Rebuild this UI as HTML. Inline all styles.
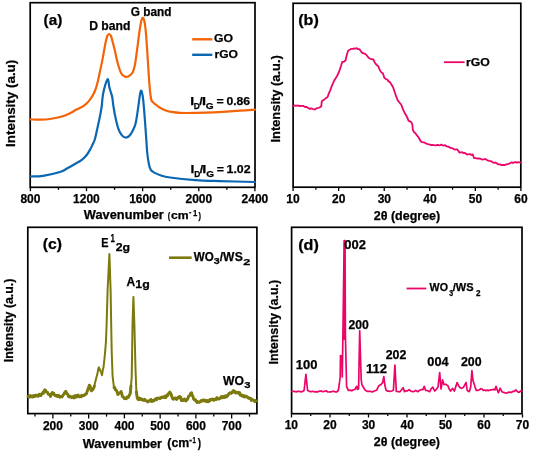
<!DOCTYPE html>
<html><head><meta charset="utf-8"><style>
html,body{margin:0;padding:0;background:#fff;width:533px;height:454px;overflow:hidden}
svg{display:block;will-change:transform}
text{font-family:"Liberation Sans", sans-serif;font-weight:bold;stroke:#000;stroke-width:0.25px}
</style></head><body>
<svg width="533" height="454" viewBox="0 0 533 454">
<rect width="533" height="454" fill="#fff"/>
<rect x="30.2" y="2.7" width="224.8" height="184.60000000000002" fill="none" stroke="#000" stroke-width="1.7"/>
<line x1="30.40" y1="188.0" x2="30.40" y2="191.2" stroke="#000" stroke-width="1.3"/>
<line x1="58.46" y1="188.0" x2="58.46" y2="189.8" stroke="#000" stroke-width="1.3"/>
<line x1="86.52" y1="188.0" x2="86.52" y2="191.2" stroke="#000" stroke-width="1.3"/>
<line x1="114.59" y1="188.0" x2="114.59" y2="189.8" stroke="#000" stroke-width="1.3"/>
<line x1="142.65" y1="188.0" x2="142.65" y2="191.2" stroke="#000" stroke-width="1.3"/>
<line x1="170.71" y1="188.0" x2="170.71" y2="189.8" stroke="#000" stroke-width="1.3"/>
<line x1="198.77" y1="188.0" x2="198.77" y2="191.2" stroke="#000" stroke-width="1.3"/>
<line x1="226.83" y1="188.0" x2="226.83" y2="189.8" stroke="#000" stroke-width="1.3"/>
<line x1="254.90" y1="188.0" x2="254.90" y2="191.2" stroke="#000" stroke-width="1.3"/>
<text x="20.44" y="202.80" font-size="12" textLength="20.02" lengthAdjust="spacingAndGlyphs" fill="#000" >800</text>
<text x="73.04" y="202.80" font-size="12" textLength="26.70" lengthAdjust="spacingAndGlyphs" fill="#000" >1200</text>
<text x="129.17" y="202.80" font-size="12" textLength="26.70" lengthAdjust="spacingAndGlyphs" fill="#000" >1600</text>
<text x="185.46" y="202.80" font-size="12" textLength="26.70" lengthAdjust="spacingAndGlyphs" fill="#000" >2000</text>
<text x="241.59" y="202.80" font-size="12" textLength="26.70" lengthAdjust="spacingAndGlyphs" fill="#000" >2400</text>
<path d="M30.50,119.40 C32.17,119.45 37.25,119.77 40.50,119.70 C43.75,119.63 46.28,119.57 50.00,119.00 C53.72,118.43 59.47,117.25 62.80,116.30 C66.13,115.35 67.80,114.38 70.00,113.30 C72.20,112.22 74.12,110.82 76.00,109.80 C77.88,108.78 79.75,108.07 81.30,107.20 C82.85,106.33 83.98,105.70 85.30,104.60 C86.62,103.50 87.88,102.27 89.20,100.60 C90.52,98.93 92.10,96.58 93.20,94.60 C94.30,92.62 95.03,90.90 95.80,88.70 C96.57,86.50 97.13,84.15 97.80,81.40 C98.47,78.65 99.13,75.28 99.80,72.20 C100.47,69.12 101.18,65.93 101.80,62.90 C102.42,59.87 102.88,57.32 103.50,54.00 C104.12,50.68 104.87,46.00 105.50,43.00 C106.13,40.00 106.70,37.50 107.30,36.00 C107.90,34.50 108.48,34.00 109.10,34.00 C109.72,34.00 110.38,34.58 111.00,36.00 C111.62,37.42 112.13,40.00 112.80,42.50 C113.47,45.00 114.22,47.67 115.00,51.00 C115.78,54.33 116.45,58.75 117.50,62.50 C118.55,66.25 120.05,71.15 121.30,73.50 C122.55,75.85 123.78,76.15 125.00,76.60 C126.22,77.05 127.35,76.83 128.60,76.20 C129.85,75.57 131.45,74.67 132.50,72.80 C133.55,70.93 134.13,68.87 134.90,65.00 C135.67,61.13 136.35,55.10 137.10,49.60 C137.85,44.10 138.70,36.77 139.40,32.00 C140.10,27.23 140.70,23.33 141.30,21.00 C141.90,18.67 142.42,17.63 143.00,18.00 C143.58,18.37 144.27,20.13 144.80,23.20 C145.33,26.27 145.72,30.52 146.20,36.40 C146.68,42.28 147.18,50.78 147.70,58.50 C148.22,66.22 148.82,76.45 149.30,82.70 C149.78,88.95 150.23,93.05 150.60,96.00 C150.97,98.95 151.10,99.35 151.50,100.40 C151.90,101.45 152.28,101.60 153.00,102.30 C153.72,103.00 154.77,103.78 155.80,104.60 C156.83,105.42 157.67,106.27 159.20,107.20 C160.73,108.13 162.97,109.42 165.00,110.20 C167.03,110.98 168.90,111.45 171.40,111.90 C173.90,112.35 175.90,112.73 180.00,112.90 C184.10,113.07 190.33,113.00 196.00,112.90 C201.67,112.80 206.67,112.67 214.00,112.30 C221.33,111.93 233.17,111.15 240.00,110.70 C246.83,110.25 252.50,109.78 255.00,109.60" fill="none" stroke="#f36408" stroke-width="2.2" stroke-linejoin="round" stroke-linecap="round"/>
<path d="M30.50,176.50 C32.58,176.38 38.08,176.55 43.00,175.80 C47.92,175.05 55.95,173.25 60.00,172.00 C64.05,170.75 64.88,169.60 67.30,168.30 C69.72,167.00 72.08,165.62 74.50,164.20 C76.92,162.78 79.77,161.33 81.80,159.80 C83.83,158.27 85.28,156.77 86.70,155.00 C88.12,153.23 89.32,150.95 90.30,149.20 C91.28,147.45 91.85,146.12 92.60,144.50 C93.35,142.88 94.08,141.83 94.80,139.50 C95.52,137.17 96.22,133.53 96.90,130.50 C97.58,127.47 98.30,124.13 98.90,121.30 C99.50,118.47 100.03,116.05 100.50,113.50 C100.97,110.95 101.35,109.08 101.75,106.00 C102.15,102.92 102.31,98.53 102.90,95.00 C103.49,91.47 104.47,87.43 105.30,84.80 C106.13,82.17 107.23,78.83 107.90,79.20 C108.57,79.57 108.85,84.95 109.30,87.00 C109.75,89.05 110.12,89.83 110.60,91.50 C111.08,93.17 111.73,94.58 112.20,97.00 C112.67,99.42 112.90,102.80 113.40,106.00 C113.90,109.20 114.40,112.48 115.20,116.20 C116.00,119.92 117.10,125.15 118.20,128.30 C119.30,131.45 120.60,133.57 121.80,135.10 C123.00,136.63 124.18,137.33 125.40,137.50 C126.62,137.67 127.88,137.23 129.10,136.10 C130.32,134.97 131.62,132.80 132.70,130.70 C133.78,128.60 134.72,127.13 135.60,123.50 C136.48,119.87 137.27,113.75 138.00,108.90 C138.73,104.05 139.43,97.42 140.00,94.40 C140.57,91.38 140.88,90.00 141.40,90.80 C141.92,91.60 142.53,94.57 143.10,99.20 C143.67,103.83 144.25,111.63 144.80,118.60 C145.35,125.57 145.98,135.18 146.40,141.00 C146.82,146.82 146.87,149.57 147.30,153.50 C147.73,157.43 148.42,161.87 149.00,164.60 C149.58,167.33 149.92,168.57 150.80,169.90 C151.68,171.23 152.68,171.70 154.30,172.60 C155.92,173.50 157.88,174.48 160.50,175.30 C163.12,176.12 164.15,176.70 170.00,177.50 C175.85,178.30 187.30,179.50 195.60,180.10 C203.90,180.70 209.90,180.78 219.80,181.10 C229.70,181.42 249.13,181.85 255.00,182.00" fill="none" stroke="#0b67b2" stroke-width="2.2" stroke-linejoin="round" stroke-linecap="round"/>
<text x="43.64" y="25.00" font-size="15" textLength="18.73" lengthAdjust="spacingAndGlyphs" fill="#000" >(a)</text>
<text x="89.19" y="30.00" font-size="12" textLength="41.22" lengthAdjust="spacingAndGlyphs" fill="#000" >D band</text>
<text x="130.82" y="16.00" font-size="12" textLength="40.66" lengthAdjust="spacingAndGlyphs" fill="#000" >G band</text>
<line x1="192.2" y1="39.3" x2="212.3" y2="39.3" stroke="#f36408" stroke-width="2.4"/>
<line x1="192.2" y1="54.8" x2="212.3" y2="54.8" stroke="#0b67b2" stroke-width="2.4"/>
<text x="214.00" y="42.00" font-size="11.5" textLength="19.01" lengthAdjust="spacingAndGlyphs" fill="#000" >GO</text>
<text x="214.50" y="57.60" font-size="11.5" textLength="23.50" lengthAdjust="spacingAndGlyphs" fill="#000" >rGO</text>
<text x="190.17" y="105.10" font-size="11.5" textLength="3.86" lengthAdjust="spacingAndGlyphs" fill="#000" >I</text>
<text x="193.84" y="109.40" font-size="9.3" textLength="6.01" lengthAdjust="spacingAndGlyphs" fill="#000" >D</text>
<text x="199.38" y="105.10" font-size="11.5" textLength="3.44" lengthAdjust="spacingAndGlyphs" fill="#000" >/</text>
<text x="201.92" y="105.10" font-size="11.5" textLength="4.05" lengthAdjust="spacingAndGlyphs" fill="#000" >I</text>
<text x="205.89" y="109.40" font-size="9.3" textLength="7.84" lengthAdjust="spacingAndGlyphs" fill="#000" >G</text>
<text x="216.49" y="105.30" font-size="11.5" textLength="7.22" lengthAdjust="spacingAndGlyphs" fill="#000" >=</text>
<text x="226.42" y="105.10" font-size="11.5" textLength="23.72" lengthAdjust="spacingAndGlyphs" fill="#000" >0.86</text>
<text x="190.57" y="172.60" font-size="11.5" textLength="3.86" lengthAdjust="spacingAndGlyphs" fill="#000" >I</text>
<text x="194.24" y="176.90" font-size="9.3" textLength="6.01" lengthAdjust="spacingAndGlyphs" fill="#000" >D</text>
<text x="199.78" y="172.60" font-size="11.5" textLength="3.44" lengthAdjust="spacingAndGlyphs" fill="#000" >/</text>
<text x="202.32" y="172.60" font-size="11.5" textLength="4.05" lengthAdjust="spacingAndGlyphs" fill="#000" >I</text>
<text x="206.29" y="176.90" font-size="9.3" textLength="7.84" lengthAdjust="spacingAndGlyphs" fill="#000" >G</text>
<text x="216.89" y="172.80" font-size="11.5" textLength="7.22" lengthAdjust="spacingAndGlyphs" fill="#000" >=</text>
<text x="226.52" y="172.60" font-size="11.5" textLength="24.07" lengthAdjust="spacingAndGlyphs" fill="#000" >1.02</text>
<text x="83.89" y="218.60" font-size="11.9" textLength="79.91" lengthAdjust="spacingAndGlyphs" fill="#000" >Wavenumber</text>
<text x="167.83" y="218.60" font-size="9.2" textLength="2.48" lengthAdjust="spacingAndGlyphs" fill="#000" >(</text>
<text x="170.92" y="218.80" font-size="11" textLength="17.63" lengthAdjust="spacingAndGlyphs" fill="#000" >cm</text>
<text x="188.92" y="214.60" font-size="9" textLength="2.36" lengthAdjust="spacingAndGlyphs" fill="#000" >-</text>
<text x="193.01" y="216.00" font-size="9" textLength="4.30" lengthAdjust="spacingAndGlyphs" fill="#000" >1</text>
<text x="198.49" y="218.60" font-size="9.2" textLength="2.48" lengthAdjust="spacingAndGlyphs" fill="#000" >)</text>
<text transform="translate(14.56,146.00) rotate(-90)" x="-0.90" y="0" font-size="13" textLength="87.16" lengthAdjust="spacingAndGlyphs">Intensity (a.u)</text>
<rect x="293.1" y="3.3" width="227.69999999999993" height="183.89999999999998" fill="none" stroke="#000" stroke-width="1.7"/>
<line x1="293.10" y1="187.9" x2="293.10" y2="191.1" stroke="#000" stroke-width="1.3"/>
<line x1="315.88" y1="187.9" x2="315.88" y2="189.70000000000002" stroke="#000" stroke-width="1.3"/>
<line x1="338.66" y1="187.9" x2="338.66" y2="191.1" stroke="#000" stroke-width="1.3"/>
<line x1="361.44" y1="187.9" x2="361.44" y2="189.70000000000002" stroke="#000" stroke-width="1.3"/>
<line x1="384.22" y1="187.9" x2="384.22" y2="191.1" stroke="#000" stroke-width="1.3"/>
<line x1="407.00" y1="187.9" x2="407.00" y2="189.70000000000002" stroke="#000" stroke-width="1.3"/>
<line x1="429.78" y1="187.9" x2="429.78" y2="191.1" stroke="#000" stroke-width="1.3"/>
<line x1="452.56" y1="187.9" x2="452.56" y2="189.70000000000002" stroke="#000" stroke-width="1.3"/>
<line x1="475.34" y1="187.9" x2="475.34" y2="191.1" stroke="#000" stroke-width="1.3"/>
<line x1="498.12" y1="187.9" x2="498.12" y2="189.70000000000002" stroke="#000" stroke-width="1.3"/>
<line x1="520.90" y1="187.9" x2="520.90" y2="191.1" stroke="#000" stroke-width="1.3"/>
<text x="286.29" y="202.50" font-size="12" textLength="13.35" lengthAdjust="spacingAndGlyphs" fill="#000" >10</text>
<text x="332.02" y="202.50" font-size="12" textLength="13.35" lengthAdjust="spacingAndGlyphs" fill="#000" >20</text>
<text x="377.65" y="202.50" font-size="12" textLength="13.35" lengthAdjust="spacingAndGlyphs" fill="#000" >30</text>
<text x="423.26" y="202.50" font-size="12" textLength="13.35" lengthAdjust="spacingAndGlyphs" fill="#000" >40</text>
<text x="468.73" y="202.50" font-size="12" textLength="13.35" lengthAdjust="spacingAndGlyphs" fill="#000" >50</text>
<text x="514.25" y="202.50" font-size="12" textLength="13.35" lengthAdjust="spacingAndGlyphs" fill="#000" >60</text>
<text x="298.20" y="24.50" font-size="15" textLength="20.61" lengthAdjust="spacingAndGlyphs" fill="#000" >(b)</text>
<path d="M293.20,105.90 L294.47,105.49 L295.73,105.75 L297.00,105.60 L298.23,105.52 L299.45,105.87 L300.67,105.98 L301.90,105.90 L303.45,105.93 L305.00,107.00 L306.75,107.02 L308.50,108.20 L309.70,108.88 L310.90,108.46 L312.10,108.71 L313.30,109.30 L314.80,109.46 L316.30,108.40 L317.80,108.00 L319.55,107.50 L321.30,106.20 L321.80,101.30 L323.27,100.14 L324.73,99.20 L326.20,97.90 L327.60,97.00 L328.85,93.38 L330.10,90.60 L331.50,86.70 L333.00,83.30 L334.00,80.90 L335.65,78.36 L337.30,75.50 L339.10,71.70 L341.00,66.00 L342.20,62.00 L343.85,61.69 L345.50,60.50 L346.50,56.00 L348.20,50.50 L349.75,49.68 L351.30,48.80 L352.85,48.84 L354.40,48.30 L355.62,48.71 L356.85,48.18 L358.07,49.21 L359.30,49.10 L360.80,51.06 L362.30,52.80 L363.73,53.36 L365.17,53.84 L366.60,55.20 L368.40,57.49 L370.20,58.90 L371.75,59.17 L373.30,59.50 L375.10,63.20 L376.65,64.96 L378.20,66.20 L380.00,70.50 L381.50,72.45 L383.00,73.50 L384.30,77.80 L385.80,78.96 L387.30,79.60 L388.55,81.36 L389.80,82.10 L391.45,84.52 L393.10,87.20 L395.00,93.00 L396.45,97.21 L397.90,100.70 L399.65,102.78 L401.40,105.00 L402.60,108.39 L403.80,111.19 L405.00,113.60 L406.20,115.52 L407.40,117.96 L408.60,120.80 L410.05,121.31 L411.50,122.50 L412.30,124.50 L412.90,130.10 L414.15,132.26 L415.40,133.22 L416.65,135.05 L417.90,136.50 L419.35,138.76 L420.80,141.50 L422.23,142.06 L423.65,142.46 L425.07,142.97 L426.50,143.70 L427.93,144.08 L429.35,144.35 L430.77,145.01 L432.20,144.80 L433.62,145.02 L435.05,145.31 L436.47,145.23 L437.90,144.80 L439.10,145.44 L440.30,145.11 L441.50,144.55 L442.70,145.43 L443.90,145.61 L445.10,145.10 L446.53,146.29 L447.97,146.58 L449.40,147.20 L450.83,148.09 L452.27,148.12 L453.70,149.10 L454.90,149.60 L456.10,149.39 L457.30,149.40 L459.40,152.50 L460.80,152.32 L462.20,152.13 L463.60,153.15 L465.00,152.80 L466.55,154.24 L468.10,154.50 L469.67,154.01 L471.23,154.86 L472.80,154.50 L474.00,158.00 L475.70,158.19 L477.40,158.60 L478.80,158.30 L480.20,158.59 L481.60,159.28 L483.00,159.53 L484.40,159.20 L485.97,159.22 L487.53,160.47 L489.10,160.90 L490.85,161.05 L492.60,162.30 L494.30,162.76 L496.00,162.70 L498.40,164.40 L499.93,164.33 L501.47,165.12 L503.00,164.80 L504.57,165.18 L506.13,164.41 L507.70,164.20 L510.00,163.30 L511.70,162.40 L512.96,163.04 L514.21,162.26 L515.47,162.02 L516.73,162.69 L517.99,162.05 L519.24,162.29 L520.50,162.70" fill="none" stroke="#eb0568" stroke-width="1.8" stroke-linejoin="round" stroke-linecap="round"/>
<line x1="444" y1="62.2" x2="464.6" y2="62.2" stroke="#eb0568" stroke-width="1.8"/>
<text x="466.09" y="66.10" font-size="11.5" textLength="23.82" lengthAdjust="spacingAndGlyphs" fill="#000" >rGO</text>
<text x="373.77" y="220.40" font-size="12" textLength="66.46" lengthAdjust="spacingAndGlyphs" fill="#000" >2θ (degree)</text>
<text transform="translate(280.13,141.70) rotate(-90)" x="-0.86" y="0" font-size="12.5" textLength="87.40" lengthAdjust="spacingAndGlyphs">Intensity (a.u.)</text>
<rect x="27.8" y="227.3" width="229.09999999999997" height="186.3" fill="none" stroke="#000" stroke-width="1.7"/>
<line x1="35.02" y1="414.2" x2="35.02" y2="416.59999999999997" stroke="#000" stroke-width="1.3"/>
<line x1="52.90" y1="414.2" x2="52.90" y2="418.4" stroke="#000" stroke-width="1.3"/>
<line x1="70.78" y1="414.2" x2="70.78" y2="416.59999999999997" stroke="#000" stroke-width="1.3"/>
<line x1="88.65" y1="414.2" x2="88.65" y2="418.4" stroke="#000" stroke-width="1.3"/>
<line x1="106.53" y1="414.2" x2="106.53" y2="416.59999999999997" stroke="#000" stroke-width="1.3"/>
<line x1="124.40" y1="414.2" x2="124.40" y2="418.4" stroke="#000" stroke-width="1.3"/>
<line x1="142.28" y1="414.2" x2="142.28" y2="416.59999999999997" stroke="#000" stroke-width="1.3"/>
<line x1="160.15" y1="414.2" x2="160.15" y2="418.4" stroke="#000" stroke-width="1.3"/>
<line x1="178.03" y1="414.2" x2="178.03" y2="416.59999999999997" stroke="#000" stroke-width="1.3"/>
<line x1="195.90" y1="414.2" x2="195.90" y2="418.4" stroke="#000" stroke-width="1.3"/>
<line x1="213.78" y1="414.2" x2="213.78" y2="416.59999999999997" stroke="#000" stroke-width="1.3"/>
<line x1="231.65" y1="414.2" x2="231.65" y2="418.4" stroke="#000" stroke-width="1.3"/>
<line x1="249.53" y1="414.2" x2="249.53" y2="416.59999999999997" stroke="#000" stroke-width="1.3"/>
<text x="42.93" y="429.80" font-size="12" textLength="20.02" lengthAdjust="spacingAndGlyphs" fill="#000" >200</text>
<text x="78.75" y="429.80" font-size="12" textLength="20.02" lengthAdjust="spacingAndGlyphs" fill="#000" >300</text>
<text x="114.54" y="429.80" font-size="12" textLength="20.02" lengthAdjust="spacingAndGlyphs" fill="#000" >400</text>
<text x="150.20" y="429.80" font-size="12" textLength="20.02" lengthAdjust="spacingAndGlyphs" fill="#000" >500</text>
<text x="185.92" y="429.80" font-size="12" textLength="20.02" lengthAdjust="spacingAndGlyphs" fill="#000" >600</text>
<text x="221.63" y="429.80" font-size="12" textLength="20.02" lengthAdjust="spacingAndGlyphs" fill="#000" >700</text>
<path d="M28.00,396.40 L28.64,396.05 L29.29,395.70 L29.93,396.98 L30.57,395.66 L31.21,396.84 L31.86,396.51 L32.50,396.90 L33.14,395.71 L33.79,396.66 L34.43,395.40 L35.07,396.23 L35.71,395.22 L36.36,395.15 L37.00,396.00 L37.64,395.56 L38.29,396.27 L38.93,394.33 L39.57,394.31 L40.21,395.02 L40.86,395.53 L41.50,394.20 L42.12,393.71 L42.75,392.60 L43.38,393.32 L44.00,391.50 L44.80,389.86 L45.60,390.40 L46.30,392.06 L47.00,392.00 L47.65,392.60 L48.30,394.20 L49.03,394.08 L49.77,394.75 L50.50,396.40 L51.40,394.04 L52.30,392.60 L52.97,394.03 L53.65,393.18 L54.33,394.82 L55.00,395.30 L55.60,395.87 L56.20,395.47 L56.80,396.13 L57.40,395.21 L58.00,396.50 L58.63,395.51 L59.27,395.93 L59.90,397.13 L60.53,396.59 L61.17,396.39 L61.80,396.90 L62.53,396.14 L63.27,394.85 L64.00,394.00 L64.90,392.17 L65.80,391.30 L66.65,393.36 L67.50,394.00 L68.50,396.40 L69.14,396.95 L69.79,395.93 L70.43,396.79 L71.07,396.75 L71.71,397.66 L72.36,397.38 L73.00,396.90 L73.62,396.31 L74.24,397.89 L74.85,395.74 L75.47,396.38 L76.09,397.11 L76.71,395.57 L77.33,396.30 L77.95,395.14 L78.56,396.57 L79.18,396.72 L79.80,396.00 L80.44,396.08 L81.09,396.70 L81.73,395.25 L82.37,396.07 L83.01,395.73 L83.66,395.59 L84.30,395.30 L84.97,394.34 L85.65,394.42 L86.33,393.82 L87.00,391.90 L87.77,389.60 L88.53,387.83 L89.30,385.20 L90.03,386.01 L90.77,389.42 L91.50,390.80 L92.22,389.93 L92.95,389.53 L93.68,387.90 L94.40,385.90 L95.20,382.12 L96.00,379.09 L96.80,376.10 L97.50,373.57 L98.20,369.09 L98.90,367.30 L99.60,368.96 L100.30,370.80 L101.15,372.20 L102.00,375.20 L102.75,370.33 L103.50,367.30 L104.10,362.00 L104.70,356.70 L105.30,349.65 L105.90,342.60 L106.60,325.00 L107.60,290.00 L108.20,278.00 L108.80,266.00 L109.40,254.00 L110.60,290.00 L111.20,325.00 L111.70,351.40 L112.60,376.10 L113.30,381.85 L114.00,387.60 L114.70,387.41 L115.40,389.98 L116.10,390.20 L116.70,390.78 L117.30,392.53 L117.90,394.60 L118.80,393.44 L119.70,392.80 L120.40,393.09 L121.10,391.60 L121.70,392.99 L122.30,396.40 L122.97,396.70 L123.65,397.37 L124.33,398.60 L125.00,398.10 L125.70,398.69 L126.40,398.61 L127.10,397.03 L127.80,397.18 L128.50,397.20 L129.35,395.11 L130.20,393.70 L130.95,385.80 L131.70,377.90 L132.50,325.00 L133.40,296.90 L134.40,325.00 L135.50,369.00 L136.40,392.00 L137.30,398.10 L138.00,399.30 L138.70,399.76 L139.40,398.10 L140.10,398.44 L140.80,399.50 L141.44,399.02 L142.09,399.19 L142.73,399.96 L143.38,400.38 L144.02,399.76 L144.67,399.31 L145.31,400.47 L145.96,400.52 L146.60,401.00 L147.21,401.09 L147.82,401.94 L148.43,401.24 L149.04,400.75 L149.65,400.92 L150.25,400.99 L150.86,399.42 L151.47,401.38 L152.08,401.02 L152.69,401.17 L153.30,400.20 L153.96,400.76 L154.62,399.64 L155.28,399.51 L155.94,398.65 L156.60,399.77 L157.26,398.25 L157.92,398.11 L158.58,398.30 L159.24,398.04 L159.90,398.70 L160.54,398.16 L161.19,397.31 L161.83,397.03 L162.47,397.23 L163.11,396.96 L163.76,397.43 L164.40,397.60 L165.06,396.02 L165.72,397.62 L166.38,396.55 L167.04,395.00 L167.70,395.40 L168.43,393.71 L169.17,392.83 L169.90,392.10 L170.63,393.61 L171.37,394.86 L172.10,397.60 L172.73,398.69 L173.36,399.30 L173.99,398.29 L174.61,398.59 L175.24,397.89 L175.87,398.19 L176.50,399.40 L177.22,398.30 L177.95,397.39 L178.68,398.01 L179.40,396.50 L180.07,396.69 L180.75,397.36 L181.43,400.58 L182.10,400.50 L182.73,400.47 L183.36,399.45 L183.99,400.30 L184.61,398.96 L185.24,400.07 L185.87,401.05 L186.50,399.80 L187.16,399.79 L187.82,398.51 L188.48,396.59 L189.14,395.96 L189.80,395.40 L190.70,393.30 L191.60,392.80 L192.25,395.20 L192.90,396.38 L193.55,398.72 L194.20,399.80 L194.88,399.75 L195.56,399.86 L196.24,401.63 L196.92,402.40 L197.60,401.60 L198.26,402.39 L198.92,402.21 L199.58,402.18 L200.24,401.94 L200.90,400.64 L201.56,401.28 L202.22,400.83 L202.88,399.99 L203.54,399.93 L204.20,401.00 L204.80,400.39 L205.40,400.26 L206.00,401.22 L206.60,401.77 L207.20,400.46 L207.80,401.56 L208.40,401.60 L209.00,401.44 L209.60,399.94 L210.20,399.51 L210.80,400.10 L211.41,399.30 L212.02,399.08 L212.63,398.95 L213.24,399.82 L213.85,400.33 L214.45,400.04 L215.06,399.03 L215.67,399.30 L216.28,399.51 L216.89,397.65 L217.50,398.50 L218.15,398.70 L218.80,399.10 L219.45,398.61 L220.10,398.34 L220.75,397.50 L221.40,396.59 L222.05,397.86 L222.70,396.58 L223.35,397.51 L224.00,396.60 L224.67,397.53 L225.33,395.95 L226.00,395.76 L226.67,396.87 L227.33,396.14 L228.00,395.40 L228.62,394.01 L229.25,393.30 L229.88,392.76 L230.50,393.00 L231.27,393.37 L232.03,392.54 L232.80,391.20 L233.53,390.45 L234.27,392.18 L235.00,391.50 L235.67,392.99 L236.33,392.54 L237.00,392.14 L237.67,392.95 L238.33,392.28 L239.00,393.50 L239.67,392.67 L240.33,395.30 L241.00,394.86 L241.67,394.90 L242.33,396.21 L243.00,395.50 L243.62,395.63 L244.25,396.97 L244.88,397.15 L245.50,395.96 L246.12,396.34 L246.75,396.73 L247.38,396.89 L248.00,397.80 L248.67,398.34 L249.33,397.89 L250.00,398.61 L250.67,398.25 L251.33,400.45 L252.00,399.80 L252.70,399.65 L253.40,400.10 L254.10,400.60 L254.80,401.57 L255.50,400.61 L256.20,401.00" fill="none" stroke="#7c7a0c" stroke-width="2.0" stroke-linejoin="round" stroke-linecap="round"/>
<path d="M28.00,396.40 L28.64,396.05 L29.29,395.70 L29.93,396.98 L30.57,395.66 L31.21,396.84 L31.86,396.51 L32.50,396.90 L33.14,395.71 L33.79,396.66 L34.43,395.40 L35.07,396.23 L35.71,395.22 L36.36,395.15 L37.00,396.00 L37.64,395.56 L38.29,396.27 L38.93,394.33 L39.57,394.31 L40.21,395.02 L40.86,395.53 L41.50,394.20 L42.12,393.71 L42.75,392.60 L43.38,393.32 L44.00,391.50 L44.80,389.86 L45.60,390.40 L46.30,392.06 L47.00,392.00 L47.65,392.60 L48.30,394.20 L49.03,394.08 L49.77,394.75 L50.50,396.40 L51.40,394.04 L52.30,392.60 L52.97,394.03 L53.65,393.18 L54.33,394.82 L55.00,395.30 L55.60,395.87 L56.20,395.47 L56.80,396.13 L57.40,395.21 L58.00,396.50 L58.63,395.51 L59.27,395.93 L59.90,397.13 L60.53,396.59 L61.17,396.39 L61.80,396.90 L62.53,396.14 L63.27,394.85 L64.00,394.00 L64.90,392.17 L65.80,391.30 L66.65,393.36 L67.50,394.00 L68.50,396.40 L69.14,396.95 L69.79,395.93 L70.43,396.79 L71.07,396.75 L71.71,397.66 L72.36,397.38 L73.00,396.90 L73.62,396.31 L74.24,397.89 L74.85,395.74 L75.47,396.38 L76.09,397.11 L76.71,395.57 L77.33,396.30 L77.95,395.14 L78.56,396.57 L79.18,396.72 L79.80,396.00 L80.44,396.08 L81.09,396.70 L81.73,395.25 L82.37,396.07 L83.01,395.73 L83.66,395.59 L84.30,395.30 L84.97,394.34 L85.65,394.42 L86.33,393.82 L87.00,391.90 L87.77,389.60 L88.53,387.83 L89.30,385.20 L90.03,386.01 L90.77,389.42 L91.50,390.80 L92.22,389.93 L92.95,389.53 L93.68,387.90 L94.40,385.90" fill="none" stroke="#7c7a0c" stroke-width="2.9" stroke-linejoin="round" stroke-linecap="round"/>
<path d="M114.00,387.60 L114.70,387.41 L115.40,389.98 L116.10,390.20 L116.70,390.78 L117.30,392.53 L117.90,394.60 L118.80,393.44 L119.70,392.80 L120.40,393.09 L121.10,391.60 L121.70,392.99 L122.30,396.40 L122.97,396.70 L123.65,397.37 L124.33,398.60 L125.00,398.10 L125.70,398.69 L126.40,398.61 L127.10,397.03 L127.80,397.18 L128.50,397.20 L129.35,395.11 L130.20,393.70 L130.95,385.80" fill="none" stroke="#7c7a0c" stroke-width="2.9" stroke-linejoin="round" stroke-linecap="round"/>
<path d="M136.40,392.00 L137.30,398.10 L138.00,399.30 L138.70,399.76 L139.40,398.10 L140.10,398.44 L140.80,399.50 L141.44,399.02 L142.09,399.19 L142.73,399.96 L143.38,400.38 L144.02,399.76 L144.67,399.31 L145.31,400.47 L145.96,400.52 L146.60,401.00 L147.21,401.09 L147.82,401.94 L148.43,401.24 L149.04,400.75 L149.65,400.92 L150.25,400.99 L150.86,399.42 L151.47,401.38 L152.08,401.02 L152.69,401.17 L153.30,400.20 L153.96,400.76 L154.62,399.64 L155.28,399.51 L155.94,398.65 L156.60,399.77 L157.26,398.25 L157.92,398.11 L158.58,398.30 L159.24,398.04 L159.90,398.70 L160.54,398.16 L161.19,397.31 L161.83,397.03 L162.47,397.23 L163.11,396.96 L163.76,397.43 L164.40,397.60 L165.06,396.02 L165.72,397.62 L166.38,396.55 L167.04,395.00 L167.70,395.40 L168.43,393.71 L169.17,392.83 L169.90,392.10 L170.63,393.61 L171.37,394.86 L172.10,397.60 L172.73,398.69 L173.36,399.30 L173.99,398.29 L174.61,398.59 L175.24,397.89 L175.87,398.19 L176.50,399.40 L177.22,398.30 L177.95,397.39 L178.68,398.01 L179.40,396.50 L180.07,396.69 L180.75,397.36 L181.43,400.58 L182.10,400.50 L182.73,400.47 L183.36,399.45 L183.99,400.30 L184.61,398.96 L185.24,400.07 L185.87,401.05 L186.50,399.80 L187.16,399.79 L187.82,398.51 L188.48,396.59 L189.14,395.96 L189.80,395.40 L190.70,393.30 L191.60,392.80 L192.25,395.20 L192.90,396.38 L193.55,398.72 L194.20,399.80 L194.88,399.75 L195.56,399.86 L196.24,401.63 L196.92,402.40 L197.60,401.60 L198.26,402.39 L198.92,402.21 L199.58,402.18 L200.24,401.94 L200.90,400.64 L201.56,401.28 L202.22,400.83 L202.88,399.99 L203.54,399.93 L204.20,401.00 L204.80,400.39 L205.40,400.26 L206.00,401.22 L206.60,401.77 L207.20,400.46 L207.80,401.56 L208.40,401.60 L209.00,401.44 L209.60,399.94 L210.20,399.51 L210.80,400.10 L211.41,399.30 L212.02,399.08 L212.63,398.95 L213.24,399.82 L213.85,400.33 L214.45,400.04 L215.06,399.03 L215.67,399.30 L216.28,399.51 L216.89,397.65 L217.50,398.50 L218.15,398.70 L218.80,399.10 L219.45,398.61 L220.10,398.34 L220.75,397.50 L221.40,396.59 L222.05,397.86 L222.70,396.58 L223.35,397.51 L224.00,396.60 L224.67,397.53 L225.33,395.95 L226.00,395.76 L226.67,396.87 L227.33,396.14 L228.00,395.40 L228.62,394.01 L229.25,393.30 L229.88,392.76 L230.50,393.00 L231.27,393.37 L232.03,392.54 L232.80,391.20 L233.53,390.45 L234.27,392.18 L235.00,391.50 L235.67,392.99 L236.33,392.54 L237.00,392.14 L237.67,392.95 L238.33,392.28 L239.00,393.50 L239.67,392.67 L240.33,395.30 L241.00,394.86 L241.67,394.90 L242.33,396.21 L243.00,395.50 L243.62,395.63 L244.25,396.97 L244.88,397.15 L245.50,395.96 L246.12,396.34 L246.75,396.73 L247.38,396.89 L248.00,397.80 L248.67,398.34 L249.33,397.89 L250.00,398.61 L250.67,398.25 L251.33,400.45 L252.00,399.80 L252.70,399.65 L253.40,400.10 L254.10,400.60 L254.80,401.57 L255.50,400.61 L256.20,401.00" fill="none" stroke="#7c7a0c" stroke-width="2.9" stroke-linejoin="round" stroke-linecap="round"/>
<text x="42.82" y="249.00" font-size="15" textLength="19.16" lengthAdjust="spacingAndGlyphs" fill="#000" >(c)</text>
<line x1="169" y1="257.7" x2="191.6" y2="257.7" stroke="#7c7a0c" stroke-width="2.6"/>
<text x="193.69" y="260.70" font-size="12" textLength="20.00" lengthAdjust="spacingAndGlyphs" fill="#000" >WO</text>
<text x="213.76" y="263.90" font-size="9.5" textLength="5.93" lengthAdjust="spacingAndGlyphs" fill="#000" >3</text>
<text x="219.78" y="260.70" font-size="12" textLength="14.73" lengthAdjust="spacingAndGlyphs" fill="#000" >/W</text>
<text x="234.75" y="260.70" font-size="12" textLength="8.13" lengthAdjust="spacingAndGlyphs" fill="#000" >S</text>
<text x="243.26" y="264.50" font-size="9.5" textLength="7.05" lengthAdjust="spacingAndGlyphs" fill="#000" >2</text>
<text x="101.27" y="247.40" font-size="12" textLength="7.25" lengthAdjust="spacingAndGlyphs" fill="#000" >E</text>
<text x="110.50" y="242.20" font-size="11" textLength="4.42" lengthAdjust="spacingAndGlyphs" fill="#000" >1</text>
<text x="115.67" y="250.80" font-size="11" textLength="14.35" lengthAdjust="spacingAndGlyphs" fill="#000" >2g</text>
<text x="126.60" y="285.80" font-size="12" textLength="8.72" lengthAdjust="spacingAndGlyphs" fill="#000" >A</text>
<text x="135.32" y="288.40" font-size="11" textLength="14.40" lengthAdjust="spacingAndGlyphs" fill="#000" >1g</text>
<text x="223.09" y="384.60" font-size="12" textLength="20.92" lengthAdjust="spacingAndGlyphs" fill="#000" >WO</text>
<text x="244.24" y="387.50" font-size="9.5" textLength="6.27" lengthAdjust="spacingAndGlyphs" fill="#000" >3</text>
<text x="82.69" y="447.80" font-size="13.3" textLength="79.40" lengthAdjust="spacingAndGlyphs" fill="#000" >Wavenumber</text>
<text x="167.28" y="447.40" font-size="12.3" textLength="21.98" lengthAdjust="spacingAndGlyphs" fill="#000" >(cm</text>
<text x="189.28" y="443.40" font-size="10" textLength="2.75" lengthAdjust="spacingAndGlyphs" fill="#000" >-</text>
<text x="192.42" y="442.60" font-size="8.8" textLength="3.35" lengthAdjust="spacingAndGlyphs" fill="#000" >1</text>
<text x="197.79" y="447.40" font-size="12.3" textLength="3.30" lengthAdjust="spacingAndGlyphs" fill="#000" >)</text>
<text transform="translate(13.40,361.40) rotate(-90)" x="-0.82" y="0" font-size="12" textLength="83.54" lengthAdjust="spacingAndGlyphs">Intensity (a.u.)</text>
<rect x="291.6" y="227.3" width="230.39999999999998" height="186.39999999999998" fill="none" stroke="#000" stroke-width="1.7"/>
<line x1="291.50" y1="414.3" x2="291.50" y2="417.5" stroke="#000" stroke-width="1.3"/>
<line x1="310.75" y1="414.3" x2="310.75" y2="416.1" stroke="#000" stroke-width="1.3"/>
<line x1="330.00" y1="414.3" x2="330.00" y2="417.5" stroke="#000" stroke-width="1.3"/>
<line x1="349.25" y1="414.3" x2="349.25" y2="416.1" stroke="#000" stroke-width="1.3"/>
<line x1="368.50" y1="414.3" x2="368.50" y2="417.5" stroke="#000" stroke-width="1.3"/>
<line x1="387.75" y1="414.3" x2="387.75" y2="416.1" stroke="#000" stroke-width="1.3"/>
<line x1="407.00" y1="414.3" x2="407.00" y2="417.5" stroke="#000" stroke-width="1.3"/>
<line x1="426.25" y1="414.3" x2="426.25" y2="416.1" stroke="#000" stroke-width="1.3"/>
<line x1="445.50" y1="414.3" x2="445.50" y2="417.5" stroke="#000" stroke-width="1.3"/>
<line x1="464.75" y1="414.3" x2="464.75" y2="416.1" stroke="#000" stroke-width="1.3"/>
<line x1="484.00" y1="414.3" x2="484.00" y2="417.5" stroke="#000" stroke-width="1.3"/>
<line x1="503.25" y1="414.3" x2="503.25" y2="416.1" stroke="#000" stroke-width="1.3"/>
<line x1="522.50" y1="414.3" x2="522.50" y2="417.5" stroke="#000" stroke-width="1.3"/>
<text x="284.69" y="429.30" font-size="12" textLength="13.35" lengthAdjust="spacingAndGlyphs" fill="#000" >10</text>
<text x="323.36" y="429.30" font-size="12" textLength="13.35" lengthAdjust="spacingAndGlyphs" fill="#000" >20</text>
<text x="361.93" y="429.30" font-size="12" textLength="13.35" lengthAdjust="spacingAndGlyphs" fill="#000" >30</text>
<text x="400.48" y="429.30" font-size="12" textLength="13.35" lengthAdjust="spacingAndGlyphs" fill="#000" >40</text>
<text x="438.89" y="429.30" font-size="12" textLength="13.35" lengthAdjust="spacingAndGlyphs" fill="#000" >50</text>
<text x="477.35" y="429.30" font-size="12" textLength="13.35" lengthAdjust="spacingAndGlyphs" fill="#000" >60</text>
<text x="515.81" y="429.30" font-size="12" textLength="13.35" lengthAdjust="spacingAndGlyphs" fill="#000" >70</text>
<path d="M292.00,391.40 L293.36,391.34 L294.72,391.47 L296.08,391.91 L297.44,391.36 L298.80,391.40 L300.40,391.61 L302.00,391.80 L304.10,390.50 L305.90,374.30 L307.60,390.50 L310.00,391.60 L311.28,391.72 L312.56,391.26 L313.84,391.67 L315.12,391.84 L316.40,391.70 L317.63,391.98 L318.86,391.07 L320.09,391.25 L321.31,390.92 L322.54,391.71 L323.77,391.50 L325.00,391.20 L326.29,390.74 L327.58,391.96 L328.87,392.02 L330.16,391.74 L331.44,391.78 L332.73,391.32 L334.02,391.24 L335.31,391.95 L336.60,392.00 L338.30,390.50 L339.30,384.00 L340.20,377.00 L340.50,355.50 L341.90,356.00 L342.30,377.00 L342.90,335.00 L344.20,240.60 L345.00,240.60 L345.40,335.00 L346.60,386.70 L348.50,390.50 L350.15,390.12 L351.80,390.80 L353.30,389.78 L354.80,389.50 L355.70,388.00 L356.80,386.30 L357.50,389.50 L358.60,388.50 L359.70,330.80 L361.20,380.00 L361.90,384.60 L363.50,387.50 L365.30,390.30 L367.50,391.40 L369.00,391.29 L370.50,391.24 L372.00,392.00 L373.50,391.39 L375.00,390.80 L376.50,390.30 L378.80,385.80 L381.00,384.60 L382.70,382.40 L383.80,376.70 L385.00,385.80 L386.10,390.30 L387.40,391.08 L388.70,391.06 L390.00,391.40 L391.70,391.02 L393.40,390.30 L394.90,365.00 L396.30,391.40 L397.53,391.50 L398.77,391.79 L400.00,391.70 L401.60,389.65 L403.20,387.70 L404.50,391.70 L406.03,390.77 L407.57,390.96 L409.10,389.70 L410.43,390.96 L411.77,391.44 L413.10,391.70 L414.40,391.30 L415.70,390.40 L417.70,391.70 L419.35,390.48 L421.00,389.70 L422.90,389.70 L424.20,386.40 L425.60,390.40 L426.90,390.51 L428.20,391.01 L429.50,391.70 L431.15,388.88 L432.80,387.10 L434.70,391.00 L436.35,389.37 L438.00,387.10 L439.70,372.60 L441.00,389.00 L442.60,379.90 L443.90,384.40 L445.90,384.40 L447.90,385.80 L449.20,389.00 L450.50,391.00 L452.50,388.40 L454.40,391.00 L455.75,386.63 L457.10,382.50 L459.00,386.40 L460.35,387.82 L461.70,388.40 L463.60,387.10 L464.85,384.66 L466.10,382.50 L467.20,390.50 L469.30,391.70 L470.70,387.00 L471.90,370.70 L473.00,380.60 L474.00,383.50 L474.90,386.40 L476.30,390.50 L477.83,390.45 L479.37,389.72 L480.90,388.70 L482.10,389.00 L483.30,390.50 L484.68,390.03 L486.06,390.75 L487.44,390.10 L488.82,390.60 L490.20,389.90 L491.77,389.78 L493.33,389.39 L494.90,389.90 L496.00,386.40 L497.20,389.90 L498.40,392.80 L500.10,388.20 L501.90,391.70 L503.60,392.41 L505.30,392.80 L506.77,393.06 L508.25,392.37 L509.73,392.08 L511.20,392.50 L512.73,391.43 L514.27,391.32 L515.80,389.90 L518.10,392.20 L519.40,392.04 L520.70,390.81 L522.00,390.80" fill="none" stroke="#eb0568" stroke-width="1.7" stroke-linejoin="round" stroke-linecap="round"/>
<text x="298.20" y="249.50" font-size="15" textLength="20.61" lengthAdjust="spacingAndGlyphs" fill="#000" >(d)</text>
<path d="M342.9,340 L343.8,240.8 L345.3,240.8 L345.5,340 Z" fill="#eb0568"/>
<text x="344.29" y="248.50" font-size="12" textLength="21.63" lengthAdjust="spacingAndGlyphs" fill="#000" >002</text>
<text x="295.88" y="368.50" font-size="12" textLength="21.65" lengthAdjust="spacingAndGlyphs" fill="#000" >100</text>
<text x="348.58" y="328.80" font-size="12" textLength="20.32" lengthAdjust="spacingAndGlyphs" fill="#000" >200</text>
<text x="365.91" y="372.90" font-size="12" textLength="21.00" lengthAdjust="spacingAndGlyphs" fill="#000" >112</text>
<text x="385.67" y="359.10" font-size="12" textLength="20.62" lengthAdjust="spacingAndGlyphs" fill="#000" >202</text>
<text x="427.30" y="366.10" font-size="12" textLength="21.27" lengthAdjust="spacingAndGlyphs" fill="#000" >004</text>
<text x="460.97" y="366.10" font-size="12" textLength="20.64" lengthAdjust="spacingAndGlyphs" fill="#000" >200</text>
<line x1="406.6" y1="288.5" x2="426.3" y2="288.5" stroke="#eb0568" stroke-width="1.8"/>
<text x="429.59" y="291.10" font-size="11.5" textLength="18.36" lengthAdjust="spacingAndGlyphs" fill="#000" >WO</text>
<text x="449.24" y="296.30" font-size="8.8" textLength="3.92" lengthAdjust="spacingAndGlyphs" fill="#000" >3</text>
<text x="452.79" y="291.10" font-size="11.5" textLength="20.84" lengthAdjust="spacingAndGlyphs" fill="#000" >/WS</text>
<text x="476.02" y="296.30" font-size="8.3" textLength="4.51" lengthAdjust="spacingAndGlyphs" fill="#000" >2</text>
<text x="373.87" y="445.80" font-size="12" textLength="66.15" lengthAdjust="spacingAndGlyphs" fill="#000" >2θ (degree)</text>
<text transform="translate(278.40,363.70) rotate(-90)" x="-0.84" y="0" font-size="12" textLength="84.76" lengthAdjust="spacingAndGlyphs">Intensity (a.u.)</text>
</svg>
</body></html>
